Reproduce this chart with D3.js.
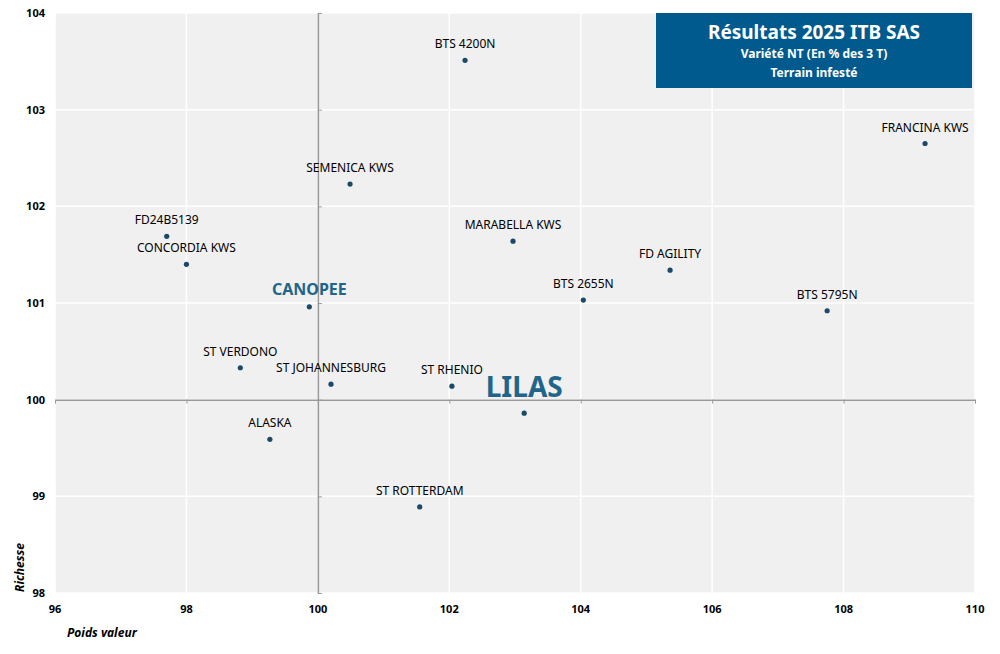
<!DOCTYPE html>
<html>
<head>
<meta charset="utf-8">
<script src="https://cdn.jsdelivr.net/npm/d3@7"></script>
<style>
  body { margin: 0; background: #fff; }
  svg { display: block; font-family: "Noto Sans", sans-serif; }
</style>
</head>
<body>
<svg width="1000" height="654"></svg>
<script>
// varieties, with poids valeur (x) and richesse (y)
var varieties = ["BTS 4200N", "FRANCINA KWS", "SEMENICA KWS", "FD24B5139", "CONCORDIA KWS",
    "MARABELLA KWS", "FD AGILITY", "BTS 2655N", "BTS 5795N", "CANOPEE", "ST VERDONO",
    "ST JOHANNESBURG", "ST RHENIO", "LILAS", "ALASKA", "ST ROTTERDAM"];
var poidsValeur = [102.24, 109.24, 100.49, 97.70, 98.00, 102.97, 105.36, 104.04, 107.75,
    99.87, 98.82, 100.20, 102.04, 103.14, 99.27, 101.55];
var richesse = [103.51, 102.65, 102.23, 101.69, 101.40, 101.64, 101.34, 101.03, 100.92,
    100.96, 100.33, 100.16, 100.14, 99.86, 99.59, 98.89];
var highlighted = ["CANOPEE", "LILAS"];

var xTicks = [96, 98, 100, 102, 104, 106, 108, 110];
var yTicks = [98, 99, 100, 101, 102, 103, 104];

var data = varieties.map(function (name, i) {
    return { name: name, x: poidsValeur[i], y: richesse[i] };
});

var svg = d3.select("svg");
var plotLeft = 55, plotRight = 975, plotTop = 13, plotBottom = 593;

var xScale = d3.scaleLinear().domain([96, 110]).range([plotLeft, plotRight]);
var yScale = d3.scaleLinear().domain([98, 104]).range([plotBottom, plotTop]);

// plot background
svg.append("rect")
    .attr("x", plotLeft).attr("y", plotTop)
    .attr("width", plotRight - plotLeft).attr("height", plotBottom - plotTop)
    .attr("fill", "#f0f0f0");

// white grid
svg.append("g").selectAll("line").data(xTicks).enter().append("line")
    .attr("x1", d => xScale(d)).attr("x2", d => xScale(d))
    .attr("y1", plotTop).attr("y2", plotBottom)
    .attr("stroke", "#fff").attr("stroke-width", 1.5);
svg.append("g").selectAll("line").data(yTicks).enter().append("line")
    .attr("y1", d => yScale(d)).attr("y2", d => yScale(d))
    .attr("x1", plotLeft).attr("x2", plotRight)
    .attr("stroke", "#fff").attr("stroke-width", 1.5);

// crossing axes at (100, 100)
var xAxis = svg.append("g")
    .attr("transform", "translate(0," + yScale(100) + ")")
    .call(d3.axisBottom(xScale).tickValues(xTicks).tickSize(4).tickSizeOuter(0).tickFormat(""));
var yAxis = svg.append("g")
    .attr("transform", "translate(" + xScale(100) + ",0)")
    .call(d3.axisRight(yScale).tickValues(yTicks).tickSize(4).tickSizeOuter(0).tickFormat(""));
[xAxis, yAxis].forEach(function (a) {
    a.select(".domain").attr("stroke", "#999").attr("stroke-width", 1.5);
    a.selectAll(".tick line").attr("stroke", "#999");
});

// tick labels on the plot edges
svg.append("g").selectAll("text").data(xTicks).enter().append("text")
    .attr("x", d => xScale(d)).attr("y", 613)
    .attr("text-anchor", "middle")
    .style("font-size", "11px").style("font-weight", "bold")
    .text(d => d);
svg.append("g").selectAll("text").data(yTicks).enter().append("text")
    .attr("x", 45).attr("y", d => yScale(d) + 4)
    .attr("text-anchor", "end")
    .style("font-size", "11px").style("font-weight", "bold")
    .text(d => d);

// axis titles
svg.append("text")
    .attr("x", 67).attr("y", 637)
    .style("font-size", "12px").style("font-weight", "bold").style("font-style", "italic")
    .text("Poids valeur");
svg.append("text")
    .attr("transform", "translate(24,592) rotate(-90)")
    .style("font-size", "12px").style("font-weight", "bold").style("font-style", "italic")
    .text("Richesse");

// points
svg.append("g").selectAll("circle").data(data).enter().append("circle")
    .attr("cx", d => xScale(d.x)).attr("cy", d => yScale(d.y))
    .attr("r", 2.6)
    .attr("fill", "#1b4a68");

// labels
svg.append("g").selectAll("text").data(data).enter().append("text")
    .attr("x", d => xScale(d.x))
    .attr("y", function (d) {
        if (d.name == "LILAS") return yScale(d.y) - 16;
        return yScale(d.y) - 12;
    })
    .attr("text-anchor", "middle")
    .style("font-size", function (d) {
        if (d.name == "LILAS") return "28px";
        if (d.name == "CANOPEE") return "16px";
        return "12px";
    })
    .style("font-weight", d => highlighted.indexOf(d.name) >= 0 ? "bold" : "normal")
    .attr("fill", d => highlighted.indexOf(d.name) >= 0 ? "#21668a" : "#000")
    .text(d => d.name);

// title box
svg.append("rect")
    .attr("x", 656).attr("y", 13)
    .attr("width", 316).attr("height", 75)
    .attr("fill", "#005a8e");
svg.append("text")
    .attr("x", 814).attr("y", 39)
    .attr("text-anchor", "middle").attr("fill", "#fff")
    .style("font-size", "19px").style("font-weight", "bold")
    .text("Résultats 2025 ITB SAS");
svg.append("text")
    .attr("x", 814).attr("y", 58)
    .attr("text-anchor", "middle").attr("fill", "#fff")
    .style("font-size", "12px").style("font-weight", "bold")
    .text("Variété NT (En % des 3 T)");
svg.append("text")
    .attr("x", 814).attr("y", 77)
    .attr("text-anchor", "middle").attr("fill", "#fff")
    .style("font-size", "12px").style("font-weight", "bold")
    .text("Terrain infesté");
</script>
</body>
</html>
